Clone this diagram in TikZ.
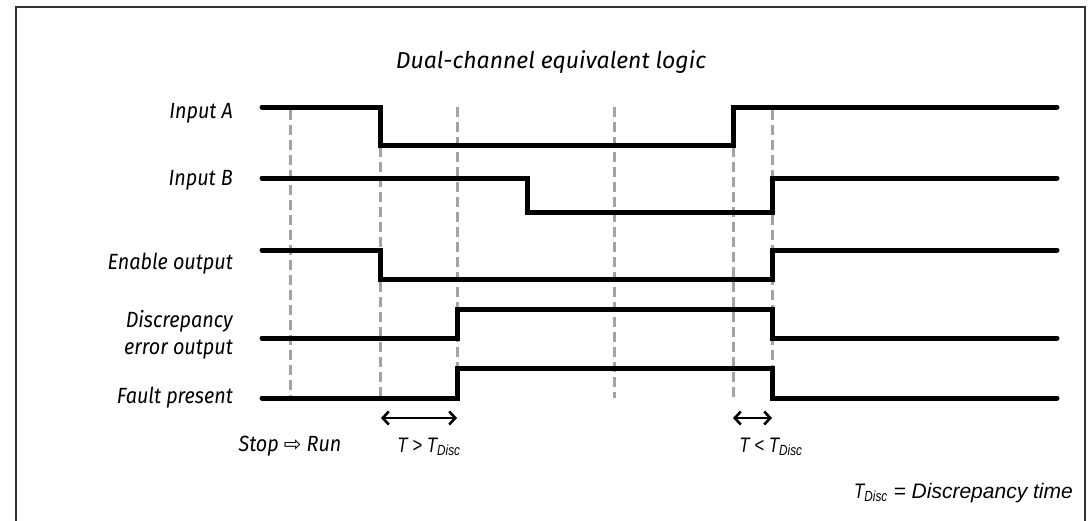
\documentclass[tikz,border=0pt]{standalone}
\usepackage{fontspec}
\setmainfont{Fira Sans}
\newfontfamily\lblfont[FakeStretch=0.9]{Fira Sans}
\newfontfamily\narrowfont[FakeStretch=0.8]{Liberation Sans}
\newfontfamily\legfont{Liberation Sans}
\newfontfamily\symfont{DejaVu Sans}
\usetikzlibrary{arrows.meta}
\begin{document}
\begin{tikzpicture}[x=1pt,y=-1pt,
  sig/.style={line width=5pt, line join=miter, line cap=round, black},
  guide/.style={line width=3pt, color=black!36, dash pattern=on 10pt off 5pt},
  lbl/.style={anchor=east, inner sep=0pt, font=\lblfont\itshape\fontsize{22}{27}\selectfont, align=right},
  tlbl/.style={inner sep=0pt, font=\narrowfont\itshape\fontsize{21}{24}\selectfont},
  dim/.style={line width=2.6pt, {Straight Barb[length=6pt,width=13pt]}-{Straight Barb[length=6pt,width=13pt]}}]
\useasboundingbox (0,0) rectangle (1091,520);
\draw[line width=1.3pt, color=black!80] (16,530) -- (16,7) -- (1085,7) -- (1085,530);
% title
\node[inner sep=0pt, font=\itshape\fontsize{23}{27}\selectfont] (title) at (551,62) {Dual-channel equivalent logic};
% guides
\foreach \x/\t in {290/110, 380/147, 457/107, 614/107, 733/147, 772/110}
  \draw[guide] (\x,\t) -- (\x,398);
% labels
\node[lbl] (la) at (233,113) {Input A};
\node[lbl] (lb) at (233,180) {Input B};
\node[lbl] (le) at (233,264) {Enable output};
\node[lbl] (ld) at (233,335) {Discrepancy\\error output};
\node[lbl] (lf) at (233,398) {Fault present};
% signals
\draw[sig] (262,107) -- (380,107) -- (380,145) -- (733,145) -- (733,107) -- (1057,107);
\draw[sig] (262,178) -- (527,178) -- (527,212) -- (772,212) -- (772,178) -- (1057,178);
\draw[sig] (262,250) -- (380,250) -- (380,279) -- (772,279) -- (772,250) -- (1057,250);
\draw[sig] (262,338) -- (457,338) -- (457,309) -- (772,309) -- (772,338) -- (1057,338);
\draw[sig] (262,398) -- (457,398) -- (457,368) -- (772,368) -- (772,398) -- (1057,398);
% dimension arrows
\coordinate (d1a) at (381,418); \coordinate (d1b) at (457,418);
\coordinate (d2a) at (733,418); \coordinate (d2b) at (772,418);
\draw[dim] (d1a) -- (d1b);
\draw[dim] (d2a) -- (d2b);
\node[tlbl] (t1) at (429,447) {T > T\textsubscript{Disc}};
\node[tlbl] (t2) at (771,447) {T < T\textsubscript{Disc}};
\node[inner sep=0pt, font=\lblfont\itshape\fontsize{22}{26}\selectfont] (sr) at (290,446) {Stop {\symfont\upshape\fontsize{21}{24}\selectfont ⇨} Run};
\node[inner sep=0pt, anchor=east, font=\legfont\itshape\fontsize{21}{25}\selectfont] (leg) at (1073,493) {{\narrowfont T\textsubscript{Disc}} = Discrepancy time};
\end{tikzpicture}
\end{document}
